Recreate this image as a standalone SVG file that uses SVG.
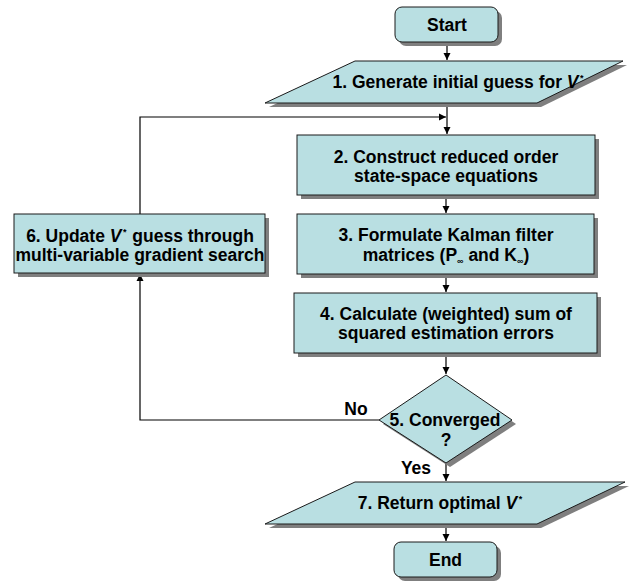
<svg xmlns="http://www.w3.org/2000/svg" width="629" height="582" viewBox="0 0 629 582">
<defs>
<marker id="ah" markerWidth="8" markerHeight="8" refX="7" refY="4" orient="auto" markerUnits="userSpaceOnUse">
<path d="M0,0.5 L7,4 L0,7.5 Z" fill="#000"/>
</marker>
</defs>
<style>
.sh{fill:#7f7f7f}
.nd{fill:#b9dfe2;stroke:#1a1a1a;stroke-width:1}
.t{font-family:"Liberation Sans",Arial,sans-serif;font-weight:bold;font-size:17.5px;fill:#000;text-anchor:middle}
.c{fill:none;stroke:#000;stroke-width:1.2}
.i{font-style:italic}
.sup{font-size:9px;font-style:normal}
.sub{font-size:9px}
</style>
<rect width="629" height="582" fill="#fff"/>
<g id="connectors">
<path class="c" d="M447,42 V60" marker-end="url(#ah)"/>
<path class="c" d="M447,103 V134" marker-end="url(#ah)"/>
<path class="c" d="M140,214 V117 H446" marker-end="url(#ah)"/>
<path class="c" d="M446,195 V213" marker-end="url(#ah)"/>
<path class="c" d="M446,274 V292" marker-end="url(#ah)"/>
<path class="c" d="M446,353 V374" marker-end="url(#ah)"/>
<path class="c" d="M379,420 H140 V274" marker-end="url(#ah)"/>
<path class="c" d="M446,463 V481" marker-end="url(#ah)"/>
<path class="c" d="M446,524 V541" marker-end="url(#ah)"/>
<text class="t" x="356" y="415">No</text>
<text class="t" x="416" y="474">Yes</text>
</g>
<g id="start">
<rect class="sh" x="399" y="11" width="103" height="35" rx="7"/>
<rect class="nd" x="395" y="7" width="103" height="35" rx="7"/>
<text class="t" x="447" y="31">Start</text>
</g>
<g id="step1">
<polygon class="sh" points="359,65 627,65 541,107 269,107"/>
<polygon class="nd" points="355,61 623,61 537,103 265,103"/>
<text class="t" x="458" y="88">1. Generate initial guess for <tspan class="i">V</tspan><tspan class="sup" dx="1.5" dy="-7">*</tspan></text>
</g>
<g id="step2">
<rect class="sh" x="301" y="139" width="298" height="60"/>
<rect class="nd" x="297" y="135" width="298" height="60"/>
<text class="t" x="446" y="163">2. Construct reduced order</text>
<text class="t" x="446" y="182">state-space equations</text>
</g>
<g id="step3">
<rect class="sh" x="301" y="218" width="297" height="60"/>
<rect class="nd" x="297" y="214" width="297" height="60"/>
<text class="t" x="446" y="241">3. Formulate Kalman filter</text>
<text class="t" x="446" y="261">matrices (P<tspan class="sub" dy="3">∞</tspan><tspan dy="-3"> and K</tspan><tspan class="sub" dy="3">∞</tspan><tspan dy="-3">)</tspan></text>
</g>
<g id="step4">
<rect class="sh" x="298" y="297" width="303" height="60"/>
<rect class="nd" x="294" y="293" width="303" height="60"/>
<text class="t" x="446" y="320">4. Calculate (weighted) sum of</text>
<text class="t" x="446" y="339">squared estimation errors</text>
</g>
<g id="step5">
<polygon class="sh" points="450,379 516,424 450,467 383,424"/>
<polygon class="nd" points="446,375 512,420 446,463 379,420"/>
<text class="t" x="445" y="426">5. Converged</text>
<text class="t" x="446" y="446">?</text>
</g>
<g id="step6">
<rect class="sh" x="18" y="218" width="251" height="59"/>
<rect class="nd" x="14" y="214" width="251" height="59"/>
<text class="t" x="140" y="242">6. Update <tspan class="i">V</tspan><tspan class="sup" dx="1.5" dy="-7">*</tspan><tspan dx="1" dy="7"> guess through</tspan></text>
<text class="t" x="140" y="261">multi-variable gradient search</text>
</g>
<g id="step7">
<polygon class="sh" points="359,486 629,486 541,528 269,528"/>
<polygon class="nd" points="355,482 625,482 537,524 265,524"/>
<text class="t" x="440" y="509">7. Return optimal <tspan class="i">V</tspan><tspan class="sup" dx="1.5" dy="-7">*</tspan></text>
</g>
<g id="end">
<rect class="sh" x="398" y="546" width="103" height="35" rx="7"/>
<rect class="nd" x="394" y="542" width="103" height="35" rx="7"/>
<text class="t" x="445.5" y="566">End</text>
</g>
</svg>
